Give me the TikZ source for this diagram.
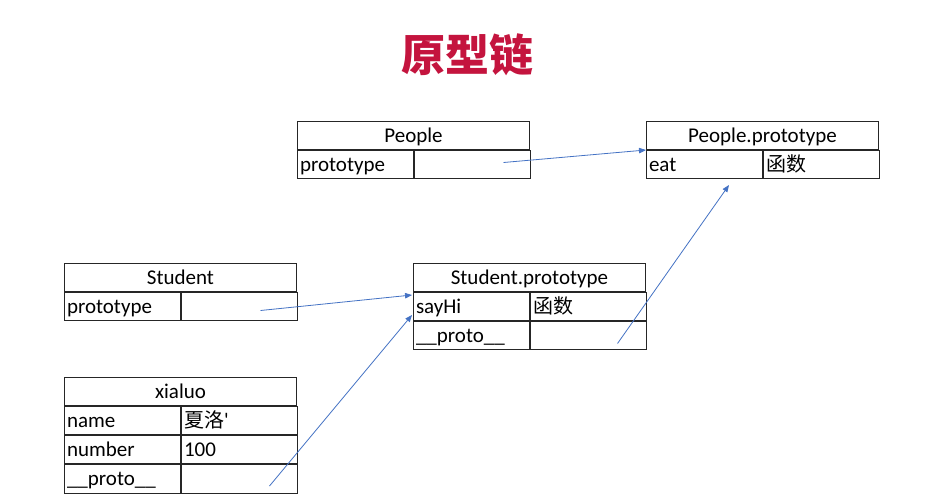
\documentclass[tikz,border=0pt]{standalone}
\usepackage{fontspec}
\setmainfont{Carlito}
\newfontfamily\cjk{Noto Sans CJK SC}
\usetikzlibrary{
  calc, % For coordinate calculations
  arrows.meta, % For arrow tips
  positioning
}
\definecolor{titlered}{RGB}{196,20,62}
\definecolor{linkblue}{RGB}{68,114,196}

\begin{document}
\begin{tikzpicture}[
      x=1pt, y=-1pt,
      every node/.style={font=\fontsize{21}{25}\selectfont, text=black},
      head/.style={draw=black!85, line width=1pt, minimum width=232pt,
        minimum height=28pt, anchor=north west, inner sep=0pt,
        text height=18pt, text depth=5pt},
      cell/.style={draw=black!85, line width=1pt, minimum height=28pt,
        text width=111pt, inner xsep=2.5pt, inner ysep=0pt, align=left,
        anchor=north west, text height=18pt, text depth=5pt},
      link/.style={linkblue, line width=0.8pt, -{Triangle[length=7pt, width=5.5pt]}},
    ]

    % Rahmen
    \useasboundingbox[fill=white] (0,0) rectangle (934,498);

    % Titel
    \node[font=\cjk\bfseries\fontsize{44}{48}\selectfont, text=titlered] (title) at (467,55) {原型链};

    % People
    \node[head] (people) at (297,121) {People};
    \node[cell] (people-key) at (people.south west) {prototype};
    \node[cell] (people-val) at (people-key.north east) {};

    % People.prototype
    \node[head] (pproto) at (646,121) {People.prototype};
    \node[cell] (pproto-key) at (pproto.south west) {eat};
    \node[cell] (pproto-val) at (pproto-key.north east) {\cjk\fontsize{20}{24}\selectfont 函数};

    % Student
    \node[head] (student) at (64,263) {Student};
    \node[cell] (student-key) at (student.south west) {prototype};
    \node[cell] (student-val) at (student-key.north east) {};

    % Student.prototype
    \node[head] (sproto) at (413,263) {Student.prototype};
    \node[cell] (sproto-key) at (sproto.south west) {sayHi};
    \node[cell] (sproto-val) at (sproto-key.north east) {\cjk\fontsize{20}{24}\selectfont 函数};
    \node[cell] (sproto-pkey) at (sproto-key.south west) {\_\_proto\_\_};
    \node[cell] (sproto-pval) at (sproto-pkey.north east) {};

    % xialuo
    \node[head] (xialuo) at (64,377) {xialuo};
    \node[cell] (xialuo-name) at (xialuo.south west) {name};
    \node[cell] (xialuo-nval) at (xialuo-name.north east) {{\cjk\fontsize{20}{24}\selectfont 夏洛}\textquotesingle};
    \node[cell] (xialuo-num) at (xialuo-name.south west) {number};
    \node[cell] (xialuo-numval) at (xialuo-num.north east) {100};
    \node[cell, minimum height=29pt] (xialuo-pkey) at (xialuo-num.south west) {\_\_proto\_\_};
    \node[cell, minimum height=29pt] (xialuo-pval) at (xialuo-pkey.north east) {};

    % Anfangs- und Endpunkte der Pfeile
    \coordinate (people-out) at ($(people-val.center)+(31,-2)$);
    \coordinate (student-out) at ($(student-val.center)+(21,4)$);
    \coordinate (xialuo-out) at ($(xialuo-pval.center)+(30,7)$);
    \coordinate (sproto-out) at ($(sproto-pval.center)+(29,8)$);
    \coordinate (pproto-in) at ($(pproto-key.south west)+(83,6)$);
    \coordinate (sproto-in) at ($(sproto-key.north west)+(-1,3)$);
    \coordinate (sproto-in2) at ($(sproto-key.south west)+(-1,-6)$);

    % Prototypkette
    \foreach \a/\b in {people-out/pproto.south west, student-out/sproto-in,
                       xialuo-out/sproto-in2, sproto-out/pproto-in}
    \draw[link] (\a) -- (\b);
  \end{tikzpicture}
\end{document}
